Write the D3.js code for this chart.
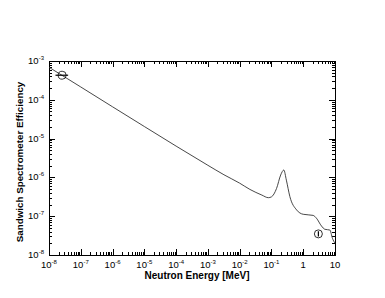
<!DOCTYPE html>
<html lang="en">
<head>
<meta charset="utf-8">
<script src="https://d3js.org/d3.v7.min.js"></script>
<style>
body { margin: 0; background: #fff; }
text { font-family: "Liberation Sans", Arial, sans-serif; fill: #000; }
</style>
</head>
<body>
</body>
<script type="text/javascript">

// efficiency curve
var energy = [1e-8, 1e-7, 1e-6, 1e-5, 1e-4, 1e-3, 3.2e-3, 1e-2, 2.1e-2, 5e-2, 8e-2, 0.1,
  0.145, 0.195, 0.245, 0.295, 0.38, 0.62, 1.0, 2.05, 2.6, 3.75, 4.8, 6.9, 8.3, 10]
var efficiency = [6.9e-4, 2.14e-4, 6.6e-5, 2.05e-5, 6.4e-6, 2.05e-6, 1.17e-6, 7.1e-7, 4.9e-7, 3.5e-7, 3.0e-7, 3.15e-7,
  5.2e-7, 1.15e-6, 1.55e-6, 8.5e-7, 3.2e-7, 1.45e-7, 1.12e-7, 1.05e-7, 8.9e-8, 5.6e-8, 4.6e-8, 4.4e-8, 2.7e-8, 2.0e-8]

// measured points (circles with error bars)
var measE = [2.6e-8, 3.0]
var measEff = [4.3e-4, 3.5e-8]
var measElo = [1.6e-8, 3.0]
var measEhi = [4.0e-8, 3.0]
var measEffLo = [4.3e-4, 3.0e-8]
var measEffHi = [4.3e-4, 4.1e-8]

var xTicks = [1e-8, 1e-7, 1e-6, 1e-5, 1e-4, 1e-3, 1e-2, 1e-1, 1, 10]
var xTickExp = ["-8", "-7", "-6", "-5", "-4", "-3", "-2", "-1", null, null]
var xTickBase = ["10", "10", "10", "10", "10", "10", "10", "10", "1", "10"]
var yTicks = [1e-8, 1e-7, 1e-6, 1e-5, 1e-4, 1e-3]
var yTickExp = ["-8", "-7", "-6", "-5", "-4", "-3"]

var W = 385, H = 298
var pL = 49, pR = 335, pT = 61, pB = 255

var svg = d3.select("body").append("svg")
  .attr("width", W)
  .attr("height", H)

var x = d3.scaleLog().domain([1e-8, 10]).range([pL, pR])
var y = d3.scaleLog().domain([1e-8, 1e-3]).range([pB, pT])

// minor + major ticks, pointing inwards on all four sides
var g = svg.append("g").attr("stroke", "#000").attr("stroke-width", 1)

var xAll = x.ticks()
var yAll = y.ticks()

function isMajor(v) {
  var l = Math.log10(v)
  return Math.abs(l - Math.round(l)) < 1e-6
}

xAll.forEach(function (v) {
  var len = isMajor(v) ? 6 : 3
  var px = Math.round(x(v)) + 0.5
  g.append("line").attr("x1", px).attr("x2", px).attr("y1", pB).attr("y2", pB - len)
  g.append("line").attr("x1", px).attr("x2", px).attr("y1", pT).attr("y2", pT + len)
})
yAll.forEach(function (v) {
  var len = isMajor(v) ? 6 : 3
  var py = Math.round(y(v)) + 0.5
  g.append("line").attr("x1", pL).attr("x2", pL + len).attr("y1", py).attr("y2", py)
  g.append("line").attr("x1", pR).attr("x2", pR - len).attr("y1", py).attr("y2", py)
})

svg.append("rect")
  .attr("x", pL + 0.5).attr("y", pT + 0.5)
  .attr("width", pR - pL).attr("height", pB - pT)
  .attr("fill", "none").attr("stroke", "#000").attr("stroke-width", 1)

// tick labels
xTicks.forEach(function (v, i) {
  var t = svg.append("text")
    .attr("x", x(v)).attr("y", pB + 13)
    .attr("text-anchor", "middle")
    .attr("font-size", 9.5)
  t.append("tspan").text(xTickBase[i])
  if (xTickExp[i]) {
    t.append("tspan").attr("dy", -4).attr("font-size", 6).text(xTickExp[i])
  }
})
yTicks.forEach(function (v, i) {
  var t = svg.append("text")
    .attr("x", pL - 5).attr("y", y(v) + 3)
    .attr("text-anchor", "end")
    .attr("font-size", 9.5)
  t.append("tspan").text("10")
  t.append("tspan").attr("dy", -4).attr("font-size", 6).text(yTickExp[i])
})

// axis titles
svg.append("text")
  .attr("x", (pL + pR) / 2 + 5).attr("y", pB + 24)
  .attr("text-anchor", "middle")
  .attr("font-size", 10).attr("font-weight", "bold")
  .text("Neutron Energy [MeV]")

svg.append("text")
  .attr("transform", "translate(23," + ((pT + pB) / 2 + 4) + ") rotate(-90)")
  .attr("text-anchor", "middle")
  .attr("font-size", 9.8).attr("font-weight", "bold")
  .text("Sandwich Spectrometer Efficiency")

// curve
var pts = energy.map(function (e, i) { return [e, efficiency[i]] })
var line = d3.line()
  .x(function (d) { return x(d[0]) })
  .y(function (d) { return y(d[1]) })
  .curve(d3.curveMonotoneX)

svg.append("path")
  .attr("d", line(pts))
  .attr("fill", "none")
  .attr("stroke", "#333")
  .attr("stroke-width", 0.9)

// measured points
measE.forEach(function (e, i) {
  svg.append("line")
    .attr("x1", x(measElo[i])).attr("x2", x(measEhi[i]))
    .attr("y1", y(measEffLo[i])).attr("y2", y(measEffHi[i]))
    .attr("stroke", "#000").attr("stroke-width", 1.2)
  svg.append("circle")
    .attr("cx", x(e)).attr("cy", y(measEff[i]))
    .attr("r", 4)
    .attr("fill", "none").attr("stroke", "#000").attr("stroke-width", 0.8)
})

</script>
</html>
